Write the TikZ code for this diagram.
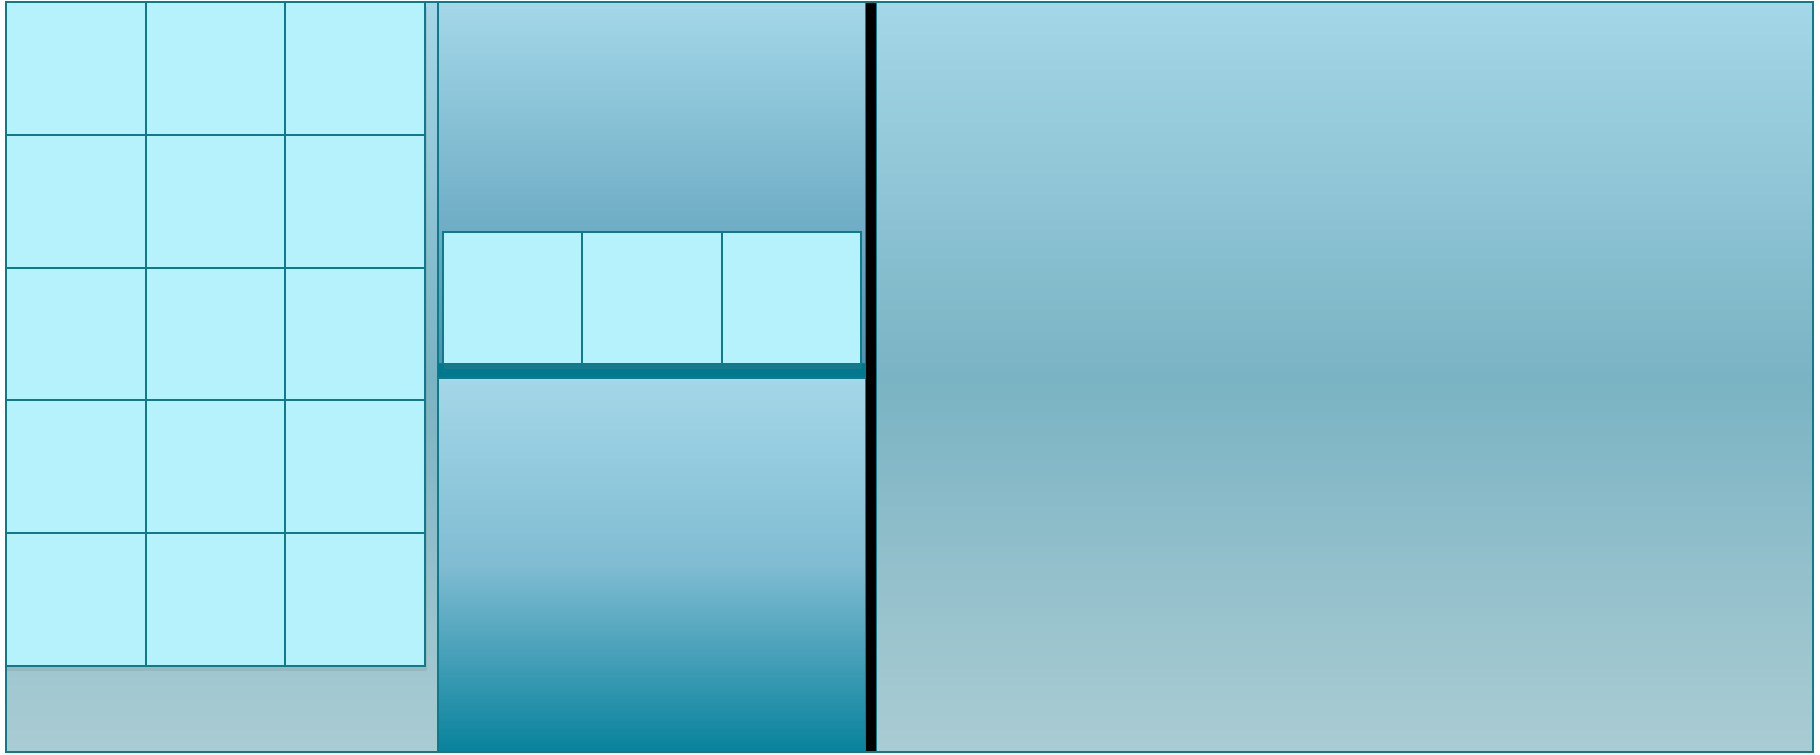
\documentclass[tikz,border=0pt]{standalone}
\usepackage{tikz}
\usetikzlibrary{shadows}
\usepackage{xcolor}
\definecolor{edge}{RGB}{14,122,140}
\definecolor{cellfill}{RGB}{182,242,252}
\definecolor{skytop}{RGB}{164,215,232}
\definecolor{skymid}{RGB}{122,179,195}
\definecolor{skybot}{RGB}{170,204,211}
\definecolor{band}{RGB}{78,148,176}
\definecolor{strip}{RGB}{0,120,142}
\definecolor{deepmid}{RGB}{128,188,210}
\definecolor{deep}{RGB}{8,130,156}
\tikzset{
  mpanel/.style={draw=edge,line width=0.5pt},
  mcell/.style={draw=edge,fill=cellfill,line width=0.6pt,
    drop shadow={shadow xshift=0.4pt,shadow yshift=-1.4pt,opacity=0.2}},
}
\begin{document}
\begin{tikzpicture}[x=0.01cm,y=0.01cm]
  \useasboundingbox (0,0) rectangle (1820,754);
  % outer panels
  \draw[mpanel,top color=skytop,bottom color=skybot,middle color=skymid] (6,2) rectangle (438,752);
  \draw[mpanel,top color=skytop,bottom color=skybot,middle color=skymid] (876,2) rectangle (1813,752);
  % middle column
  \draw[mpanel,top color=skytop,bottom color=band] (438,390) rectangle (866,752);
  \fill[strip] (438,376) rectangle (866,390);
  \draw[mpanel,top color=skytop,bottom color=deep,middle color=deepmid] (438,2) rectangle (866,376);
  \fill[black] (866,2) rectangle (876,752);
  % 5x3 grid
  \foreach \r in {0,...,4} {
    \foreach \c in {0,1,2} {
      \draw[mcell] ({6+139.7*\c},{752-132.8*\r}) rectangle +(139.7,-132.8);}}
  % row of three
  \foreach \c in {0,1,2}
    \draw[mcell] ({443+139.3*\c},390) rectangle +(139.3,132);
  \draw[edge,line width=0.6pt] (6,2) rectangle (1813,752);
\end{tikzpicture}
\end{document}
